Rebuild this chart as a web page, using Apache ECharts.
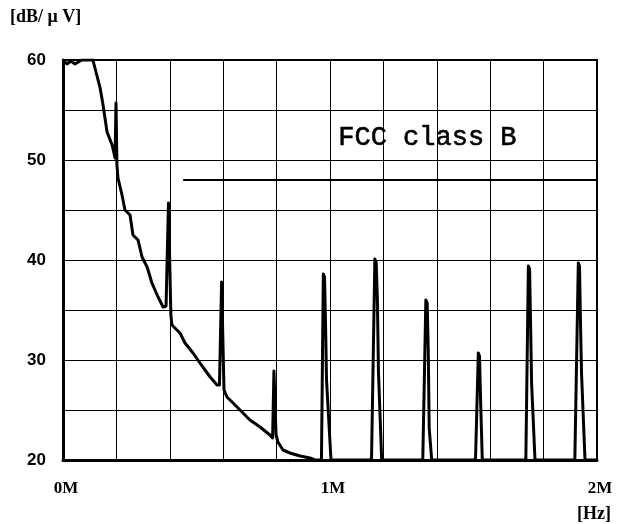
<!DOCTYPE html>
<html>
<head>
<meta charset="utf-8">
<script src="https://cdn.jsdelivr.net/npm/echarts@6/dist/echarts.min.js"></script>
<style>
  html, body { margin: 0; padding: 0; background: #fff; }
  #chart { width: 621px; height: 524px; }
</style>
</head>
<body>
<div id="chart"></div>
<script>
// Conducted emission trace, frequency in MHz, level in dB/µV
const traceFreq = [
  0, 0.015, 0.03, 0.045, 0.07, 0.112, 0.139, 0.150, 0.165, 0.184, 0.195,
  0.1985, 0.202, 0.206, 0.221, 0.232, 0.240, 0.251, 0.262, 0.281, 0.296,
  0.315, 0.333, 0.356, 0.375, 0.386, 0.395, 0.404, 0.408, 0.438, 0.457,
  0.487, 0.513, 0.551, 0.577, 0.586, 0.594, 0.603, 0.614, 0.637, 0.663,
  0.700, 0.738, 0.775, 0.785, 0.790, 0.798, 0.805, 0.824, 0.850, 0.888,
  0.925, 0.944,
  0.9680, 0.9750, 0.9795, 0.9830, 0.9870, 1.0037,
  1.1555, 1.1680, 1.1730, 1.1775, 1.1815, 1.1936,
  1.3475, 1.3590, 1.3640, 1.3680, 1.3715, 1.3809,
  1.5450, 1.5555, 1.5600, 1.5640, 1.5704,
  1.7335, 1.7430, 1.7475, 1.7510, 1.7550, 1.7678,
  1.9170, 1.9300, 1.9345, 1.9380, 1.9420, 1.9551, 2.0
];
const traceLevel = [
  60, 59.6, 59.9, 59.6, 60, 60, 57.2, 55.5, 52.8, 51.5, 50.2,
  55.7, 49.5, 48.2, 46.5, 45.0, 44.8, 44.5, 42.5, 42.0, 40.3,
  39.3, 37.7, 36.3, 35.3, 35.4, 45.7, 34.5, 33.5, 32.7, 31.7,
  30.7, 29.7, 28.3, 27.5, 27.5, 37.8, 27.0, 26.3, 25.7, 25.0,
  24.0, 23.3, 22.5, 22.2, 28.9, 22.5, 21.8, 21.0, 20.7, 20.4,
  20.2, 20,
  20, 38.6, 38.3, 34.0, 28.0, 20,
  20, 40.1, 39.8, 36.0, 28.8, 20,
  20, 36.0, 35.7, 31.0, 23.2, 20,
  20, 30.7, 30.4, 26.0, 20,
  20, 39.4, 39.1, 34.0, 27.7, 20,
  20, 39.7, 39.4, 34.0, 28.7, 20, 20
];

// FCC class B limit line
const limitFreq = [0.45, 2.0];
const limitLevel = [48, 48];

// Axis ticks
const xLabeled = { 0: '0M', 1: '1M', 2: '2M' };
const yLabeled = [20, 30, 40, 50, 60];

const pairs = (xs, ys) => xs.map((x, i) => [x, ys[i]]);

const chart = echarts.init(document.getElementById('chart'));
chart.setOption({
  animation: false,
  backgroundColor: '#ffffff',
  grid: {
    left: 63, right: 24, top: 60, bottom: 64,
    show: true, borderColor: '#000', borderWidth: 2, backgroundColor: 'transparent'
  },
  xAxis: {
    type: 'value', min: 0, max: 2, interval: 0.2,
    axisLine: { show: true, lineStyle: { color: '#000', width: 3 } },
    axisTick: { show: false },
    splitLine: { show: true, lineStyle: { color: '#000', width: 1 } },
    axisLabel: {
      margin: 20,
      color: '#000',
      fontFamily: 'Liberation Serif',
      fontWeight: 'bold',
      fontSize: 17,
      padding: [0, 0, 0, 6],
      formatter: v => {
        const k = Math.round(v * 10) / 10;
        return xLabeled[k] !== undefined && Math.abs(k - Math.round(k)) < 1e-6 ? xLabeled[k] : '';
      }
    }
  },
  yAxis: {
    type: 'value', min: 20, max: 60, interval: 5,
    axisLine: { show: true, lineStyle: { color: '#000', width: 3 } },
    axisTick: { show: false },
    splitLine: { show: true, lineStyle: { color: '#000', width: 1 } },
    axisLabel: {
      margin: 17,
      color: '#000',
      fontFamily: 'Liberation Sans',
      fontWeight: 'bold',
      fontSize: 17,
      formatter: v => (yLabeled.indexOf(Math.round(v)) >= 0 ? String(Math.round(v)) : '')
    }
  },
  graphic: [
    {
      type: 'text', left: 10, top: 8,
      style: { text: '[dB/ μ V]', fill: '#000', font: 'bold 18px "Liberation Serif"' }
    },
    {
      type: 'text', left: 577, top: 505,
      style: { text: '[Hz]', fill: '#000', font: 'bold 18px "Liberation Serif"' }
    },
    {
      type: 'text', left: 338, top: 124,
      style: {
        text: 'FCC class B', fill: '#000', font: '27px "Liberation Mono"',
        stroke: '#000', lineWidth: 0.6
      }
    }
  ],
  series: [
    {
      type: 'line',
      data: pairs(limitFreq, limitLevel),
      symbol: 'none',
      lineStyle: { color: '#000', width: 2 }
    },
    {
      type: 'line',
      data: pairs(traceFreq, traceLevel),
      symbol: 'none',
      clip: true,
      lineStyle: { color: '#000', width: 3, join: 'round' }
    }
  ]
});
</script>
</body>
</html>
